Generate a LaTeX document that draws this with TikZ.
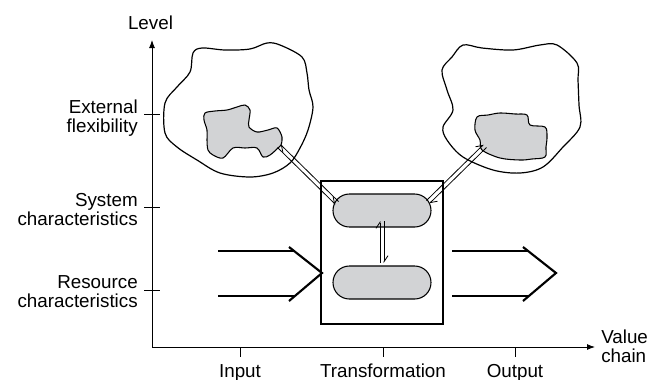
\documentclass[tikz,border=0pt]{standalone}
\usepackage{fontspec}
\setmainfont{Liberation Sans}
\usetikzlibrary{arrows.meta}
\definecolor{blobgray}{RGB}{210,211,213}
\begin{document}
\begin{tikzpicture}[x=0.75pt,y=-0.75pt,
  every node/.style={font=\fontsize{14.1}{16}\selectfont, inner sep=0pt},
  axis/.style={line width=0.7pt},
  tickline/.style={line width=0.6pt},
  cloudline/.style={line width=0.9pt, line join=round},
  blob/.style={draw, line width=0.8pt, fill=blobgray, line join=round},
  pill/.style={draw, line width=0.8pt, fill=blobgray, rounded corners=12.3pt, minimum width=73.5pt, minimum height=24.75pt},
  frame/.style={draw, line width=0.9pt, minimum width=91.5pt, minimum height=107.25pt},
  bigarrow/.style={line width=1.6pt},
  harp/.style={line width=0.6pt, -{Straight Barb[harpoon, length=4.5pt, width=6pt]}},
  lbl/.style={anchor=base east},
]
\useasboundingbox (0,0) rectangle (665,379);

% axes
\coordinate (O) at (152,347);
\coordinate (ytop) at (152,40);
\coordinate (xend) at (595,347);
\draw[axis, -{Latex[length=6pt,width=4.5pt]}] (O) -- (ytop);
\draw[axis, -{Latex[length=6pt,width=4.5pt]}] (O) -- (xend);

% vertical ticks
\draw[tickline] (144,114) -- (160,114);
\draw[tickline] (144,207) -- (160,207);
\draw[tickline] (144,290) -- (160,290);
% horizontal ticks
\draw[tickline] (240,347) -- (240,357);
\draw[tickline] (383,347) -- (383,357);
\draw[tickline] (515,347) -- (515,357);

% labels
\node[anchor=base] (level) at (150.5,29) {Level};
\node[lbl] (ext1) at (138,113) {External};
\node[lbl] (ext2) at (138,132) {flexibility};
\node[lbl] (sys1) at (138,206) {System};
\node[lbl] (sys2) at (138,225) {characteristics};
\node[lbl] (res1) at (138,288) {Resource};
\node[lbl] (res2) at (138,307) {characteristics};
\node[anchor=base west] (val1) at (601,343) {Value};
\node[anchor=base west] (val2) at (601,362) {chain};
\node[anchor=base] (inp) at (240,377) {Input};
\node[anchor=base] (trf) at (383,377) {Transformation};
\node[anchor=base] (outp) at (515,377) {Output};

% left cloud
\draw[cloudline] plot[smooth cycle, tension=0.55] coordinates {
 (193,53) (202,48) (225,50) (250,49) (267,43) (280,45) (302,57) (307,73)
 (309,90) (313,107) (308,130) (300,148) (290,163) (273,173) (250,177)
 (220,173) (197,160) (177,147) (165,133) (165,103) (177,87) (190,72)};
\draw[blob] plot[smooth cycle, tension=0.55] coordinates {
 (205,113) (215,111) (227,110) (237,107) (245,105) (250,110) (249,120)
 (249,127) (257,132) (268,130) (277,128) (282,137) (281,145) (278,148)
 (270,155) (263,157) (257,148) (245,148) (233,148) (223,158) (213,155)
 (208,150) (207,140) (207,130) (204,120)};

% right cloud
\draw[cloudline] plot[smooth cycle, tension=0.55] coordinates {
 (463,45) (482,48) (513,50) (540,45) (557,45) (577,63) (578,80) (579,105)
 (580,127) (563,147) (543,167) (520,173) (493,170) (463,157) (447,140)
 (443,127) (453,110) (447,90) (442,70) (452,57)};
\draw[blob] plot[smooth cycle, tension=0.55] coordinates {
 (477,117) (488,115) (500,113) (515,114) (527,115) (530,125) (545,127)
 (547,137) (546,147) (545,157) (532,159) (520,160) (500,158) (482,150)
 (480,140) (475,130)};

% transformation box and pills
\node[frame] (tbox) at (382,252.5) {};
\node[pill] (sysp) at (382,210.5) {};
\node[pill] (resp) at (382,282.5) {};

% big hollow arrows
\draw[bigarrow] (218,251) -- (294,251);
\draw[bigarrow] (218,296) -- (294,296);
\draw[bigarrow, line join=miter] (289,247) -- (322,273) -- (289,301);
\draw[bigarrow] (452,251) -- (528,251);
\draw[bigarrow] (452,296) -- (528,296);
\draw[bigarrow, line join=miter] (523,247) -- (556,273) -- (523,301);

% harpoon pairs
\coordinate (lp) at (337,203);
\coordinate (lb) at (279,146);
\coordinate (rp) at (428,202);
\coordinate (rb) at (485,146);
\draw[harp] ([shift={(1.5,-1.5)}]lp) -- ([shift={(1.5,-1.5)}]lb);
\draw[harp] ([shift={(-1.5,1.5)}]lb) -- ([shift={(-1.5,1.5)}]lp);
\draw[harp] ([shift={(-1.5,-1.5)}]rp) -- ([shift={(-1.5,-1.5)}]rb);
\draw[harp] ([shift={(1.5,1.5)}]rb) -- ([shift={(1.5,1.5)}]rp);
\coordinate (vt) at (382,221);
\coordinate (vb) at (382,263);
\draw[harp] ([xshift=-1.5pt]vb) -- ([xshift=-1.5pt]vt);
\draw[harp] ([xshift=1.5pt]vt) -- ([xshift=1.5pt]vb);
\end{tikzpicture}
\end{document}
